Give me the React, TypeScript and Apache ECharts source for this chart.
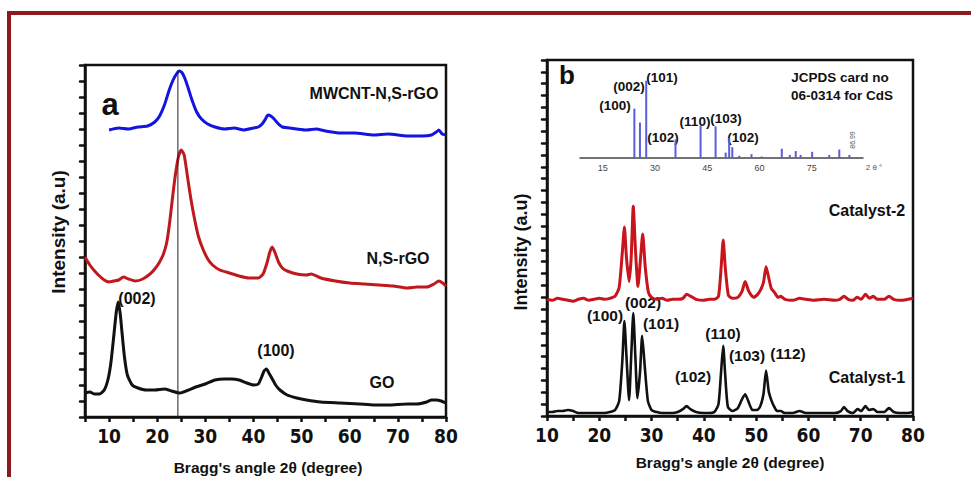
import React, { useEffect, useRef } from "react";
import * as echarts from "echarts";

// Panel a: XRD of MWCNT-N,S-rGO, N,S-rGO and GO (2θ, relative intensity)
const mwcntNSrGO: number[][] = [
  [10, 287], [12, 289], [14, 288], [16, 290], [18, 291], [19.5, 295], [20.5, 301], [21.5, 312],
  [22.5, 327], [23.3, 337], [24, 343], [24.6, 346], [25.2, 344], [25.8, 338], [26.5, 328],
  [27.3, 316], [28.2, 305], [29.2, 298], [30.5, 293], [32, 290], [34, 288], [36, 289], [38, 287],
  [40, 289], [41, 290], [41.8, 293], [42.5, 298], [43, 302], [43.6, 301], [44.3, 298], [45, 294],
  [46, 290], [47.5, 289], [49, 288], [51, 287], [53, 288], [55, 286], [58, 284], [61, 284],
  [65, 282], [68, 283], [72, 281], [75, 281], [77, 282], [78, 285], [78.5, 287], [79.2, 283], [80, 282],
];
const nsRGO: number[][] = [
  [5, 160], [6, 152], [7, 146], [8, 141], [9, 137], [10, 135], [11, 136], [12, 137], [13, 140],
  [14, 138], [15.5, 136], [17, 138], [18.5, 143], [19.5, 148], [20.5, 155], [21.3, 163], [22, 175],
  [22.6, 195], [23.2, 220], [23.8, 243], [24.4, 260], [25, 267], [25.6, 262], [26.3, 240], [27, 218],
  [27.8, 197], [28.6, 180], [29.5, 168], [30.5, 158], [31.5, 152], [33, 147], [35, 144], [37, 141],
  [39, 139], [41, 139], [42, 143], [42.8, 154], [43.4, 165], [43.9, 170], [44.5, 164], [45.2, 155],
  [46, 149], [47, 146], [49, 143], [51, 142], [52, 143], [54, 139], [57, 136], [60, 134], [63, 133],
  [66, 132], [69, 131], [72, 129], [74, 130], [76, 130], [77.5, 133], [78.5, 136], [79.3, 134], [80, 131],
];
const grapheneOxide: number[][] = [
  [5, 24], [6, 25], [7, 23], [8, 23], [9, 27], [9.8, 38], [10.4, 55], [11, 82], [11.5, 105],
  [11.9, 115], [12.3, 104], [12.7, 84], [13.2, 60], [13.8, 42], [14.8, 32], [16, 29], [17.7, 27],
  [19.5, 27], [21.5, 28], [23, 26], [24.6, 24], [26, 26], [28, 30], [30, 33], [32, 37], [34, 38],
  [35.5, 38], [37, 37], [38.6, 34], [40, 32], [41, 33], [41.7, 40], [42.2, 46], [42.7, 48], [43.2, 44],
  [43.8, 39], [44.6, 32], [45.5, 27], [47, 22], [49, 19], [51, 17], [54, 15], [58, 14], [62, 13],
  [65, 12], [68, 12], [72, 13], [74, 13], [76, 15], [77, 17], [78, 17], [79, 16], [80, 14],
];
const referenceLine: number[][] = [[24.3, 0], [24.3, 347]];

// Panel b: Catalyst-2 and Catalyst-1
const catalyst2: number[][] = [
  [10, 118], [11, 117], [12, 119], [13, 118], [14, 117], [15, 116], [16, 118], [17, 119], [18, 117],
  [19, 118], [20, 119], [21, 118], [22, 119], [23, 121], [23.8, 130], [24.4, 165], [24.8, 191],
  [25.2, 160], [25.7, 136], [26.1, 160], [26.5, 212], [26.9, 170], [27.4, 131], [27.9, 160],
  [28.3, 184], [28.8, 150], [29.4, 125], [30, 120], [31, 118], [32, 119], [33, 117], [34, 118],
  [35, 118], [36, 119], [36.7, 123], [37.5, 121], [38.5, 118], [40, 117], [41, 118], [42, 118],
  [42.8, 121], [43.3, 150], [43.7, 178], [44.1, 150], [44.7, 122], [45.5, 119], [46.5, 120],
  [47.3, 126], [47.9, 136], [48.6, 126], [49.5, 120], [50.3, 123], [50.9, 128], [51.4, 135],
  [51.9, 151], [52.4, 140], [52.9, 129], [53.5, 125], [54.2, 120], [54.7, 121], [55.5, 118],
  [57, 117], [58.3, 119], [59.5, 118], [61, 117], [63, 118], [65, 117], [66, 118], [66.8, 121],
  [67.6, 118], [68.5, 117], [69.3, 120], [70.1, 118], [70.9, 123], [71.7, 119], [72.4, 121],
  [73.2, 118], [74.5, 118], [75.4, 121], [76.3, 118], [77.5, 117], [79, 118], [80, 119],
];
const catalyst1: number[][] = [
  [10, 4], [11, 4], [12, 5], [13, 5], [14, 6], [15, 5], [16, 3], [17, 3], [18, 3], [19, 3], [20, 3],
  [21, 3], [22, 4], [23, 6], [23.8, 15], [24.4, 55], [24.8, 96], [25.2, 60], [25.7, 16], [26.1, 60],
  [26.5, 104], [26.9, 60], [27.3, 18], [27.8, 45], [28.2, 81], [28.7, 50], [29.3, 15], [30, 6],
  [31, 4], [32, 3], [33, 3], [34, 3], [35, 4], [36, 7], [36.7, 10], [37.4, 7], [38.5, 4], [40, 3],
  [41, 3], [42, 4], [42.8, 12], [43.3, 45], [43.7, 71], [44.1, 40], [44.6, 9], [45.5, 5], [46.5, 8],
  [47.3, 17], [47.9, 22], [48.5, 15], [49.3, 6], [50.2, 6], [50.8, 10], [51.4, 22], [51.9, 46],
  [52.4, 25], [52.9, 16], [53.4, 10], [54, 5], [54.7, 5], [55.5, 3], [57, 3], [58.3, 5], [59.5, 3],
  [61, 3], [63, 3], [65, 3], [66.2, 5], [66.8, 9], [67.5, 5], [68.5, 3], [69.4, 7], [70.1, 5],
  [70.9, 10], [71.6, 6], [72.4, 7], [73.2, 4], [74.5, 4], [75.4, 8], [76.3, 4], [77.5, 3], [79, 3], [80, 4],
];

// Inset: JCPDS 06-0314 CdS reference lines [2θ, relative intensity]
const jcpdsLines: number[][] = [
  [24.1, 64], [25.7, 46], [27.5, 100], [35.9, 24], [43.1, 42], [47.4, 41], [50.3, 7], [51.3, 26],
  [52.2, 14], [54.2, 3], [57.7, 5], [60.6, 2], [66.4, 12], [68.7, 4], [70.4, 9], [71.8, 4],
  [75.1, 8], [80.0, 4], [82.9, 11], [85.8, 4],
];
const insetTickValues = [15, 30, 45, 60, 75];

const FONT = "'Liberation Sans', Arial, Helvetica, sans-serif";
const NARROW = "'DejaVu Sans Condensed', 'Liberation Sans Narrow', 'Liberation Sans', Arial, sans-serif";

type T = { text: string; x: number; y: number; size: number; rot?: number; weight?: string; color?: string; family?: string };
const labels: T[] = [
  { text: "a", x: 110, y: 104, size: 31 },
  { text: "MWCNT-N,S-rGO", x: 374, y: 93, size: 16 },
  { text: "N,S-rGO", x: 398, y: 258, size: 16 },
  { text: "GO", x: 382, y: 382, size: 16 },
  { text: "(002)", x: 137, y: 298, size: 16 },
  { text: "(100)", x: 276, y: 350, size: 16 },
  { text: "Intensity (a.u)", x: 58, y: 232, size: 19, rot: Math.PI / 2 },
  { text: "Bragg's angle 2θ (degree)", x: 268, y: 467, size: 15.5 },
  { text: "b", x: 567, y: 75, size: 26 },
  { text: "(100)", x: 615, y: 105, size: 13.5 },
  { text: "(002)", x: 629, y: 86, size: 13.5 },
  { text: "(101)", x: 662, y: 77, size: 13.5 },
  { text: "(102)", x: 663, y: 137, size: 13.5 },
  { text: "(110)", x: 695, y: 121, size: 13.5 },
  { text: "(103)", x: 726, y: 118, size: 13.5 },
  { text: "(102)", x: 743, y: 137, size: 13.5 },
  { text: "JCPDS card no", x: 840, y: 77, size: 13.5 },
  { text: "06-0314 for CdS", x: 842, y: 95, size: 13.5 },
  { text: "86.99", x: 852, y: 140, size: 7, rot: Math.PI / 2, weight: "normal", color: "#555" },
  { text: "2 θ °", x: 874, y: 167, size: 8, weight: "normal", color: "#555" },
  { text: "Catalyst-2", x: 867, y: 210, size: 16 },
  { text: "Catalyst-1", x: 867, y: 377, size: 16 },
  { text: "(100)", x: 605, y: 315, size: 15.5 },
  { text: "(002)", x: 643, y: 302, size: 15.5 },
  { text: "(101)", x: 661, y: 323, size: 15.5 },
  { text: "(110)", x: 723, y: 333, size: 15.5 },
  { text: "(103)", x: 747, y: 355, size: 15.5 },
  { text: "(112)", x: 788, y: 353, size: 15.5 },
  { text: "(102)", x: 693, y: 376, size: 15.5 },
  { text: "Intensity (a.u)", x: 521, y: 252, size: 18, rot: Math.PI / 2 },
  { text: "Bragg's angle 2θ (degree)", x: 730, y: 462, size: 15.5 },
];

const tickLabel = {
  fontFamily: NARROW,
  fontWeight: "bold",
  fontSize: 19,
  color: "#111",
  margin: 9,
  formatter: (v: number) => (v % 10 === 0 ? String(v) : ""),
};

const mainX = (gridIndex: number, min: number) => ({
  type: "value",
  gridIndex,
  min,
  max: 80,
  interval: 5,
  axisLine: { show: true, lineStyle: { color: "#111", width: 2.5 } },
  axisTick: { show: true, inside: false, length: 5, lineStyle: { color: "#111", width: 2.5 } },
  axisLabel: tickLabel,
  splitLine: { show: false },
});

const mainY = (gridIndex: number, max: number, interval: number) => ({
  type: "value",
  gridIndex,
  min: 0,
  max,
  interval,
  axisLine: { show: true, lineStyle: { color: "#111", width: 2.5 } },
  axisTick: { show: true, inside: false, length: 5, lineStyle: { color: "#111", width: 2.5, cap: "round" } },
  axisLabel: { show: false },
  splitLine: { show: false },
});

export default function App() {
  const ref = useRef<HTMLDivElement>(null);
  useEffect(() => {
    if (!ref.current) return;
    const chart = echarts.init(ref.current, undefined, { renderer: "svg" });
    const line = (data: number[][], color: string, width: number, idx: number, z = 2) => ({
      type: "line",
      data,
      xAxisIndex: idx,
      yAxisIndex: idx,
      showSymbol: false,
      smooth: 0.2,
      z,
      lineStyle: { color, width, join: "round" },
    });
    chart.setOption({
      animation: false,
      backgroundColor: "#fff",
      grid: [
        { left: 85, top: 65, width: 361, height: 352, show: true, borderColor: "#111", borderWidth: 2.5 },
        { left: 547, top: 60, width: 366, height: 356, show: true, borderColor: "#111", borderWidth: 2.5 },
        { left: 580, top: 70, width: 283, height: 88, show: false },
      ],
      xAxis: [
        mainX(0, 5),
        mainX(1, 10),
        {
          type: "value",
          gridIndex: 2,
          min: 8.5,
          max: 89.7,
          axisLine: { show: true, lineStyle: { color: "#444", width: 1.5 } },
          axisTick: { show: false },
          axisLabel: { customValues: insetTickValues, fontFamily: FONT, fontSize: 9, color: "#444", margin: 5 },
          splitLine: { show: false },
        },
      ],
      yAxis: [
        mainY(0, 352, 16),
        mainY(1, 360, 12),
        { type: "value", gridIndex: 2, min: 0, max: 114, show: false, splitLine: { show: false } },
      ],
      series: [
        line(mwcntNSrGO, "#1414e0", 3, 0),
        line(nsRGO, "#c0181c", 3, 0),
        line(grapheneOxide, "#111", 3, 0),
        {
          type: "line",
          data: referenceLine,
          xAxisIndex: 0,
          yAxisIndex: 0,
          showSymbol: false,
          z: 3,
          lineStyle: { color: "#222", width: 1 },
        },
        line(catalyst2, "#c8141c", 3, 1),
        line(catalyst1, "#111", 2.6, 1),
        {
          type: "bar",
          data: jcpdsLines,
          xAxisIndex: 2,
          yAxisIndex: 2,
          barWidth: 2,
          itemStyle: { color: "#5c5ce0" },
        },
      ],
      graphic: [
        {
          type: "rect",
          shape: { x: 9, y: 13, width: 990, height: 500 },
          style: { fill: "none", stroke: "#8e1a1f", lineWidth: 4 },
          silent: true,
        },
        ...labels.map((l) => ({
          type: "text",
          x: l.x,
          y: l.y,
          rotation: l.rot || 0,
          style: {
            text: l.text,
            fontFamily: l.family || FONT,
            fontSize: l.size,
            fontWeight: l.weight || "bold",
            fill: l.color || "#111",
            align: "center",
            verticalAlign: "middle",
          },
        })),
      ],
    });
    return () => chart.dispose();
  }, []);
  return <div ref={ref} style={{ position: "fixed", left: 0, top: 0, width: 971, height: 477 }} />;
}
